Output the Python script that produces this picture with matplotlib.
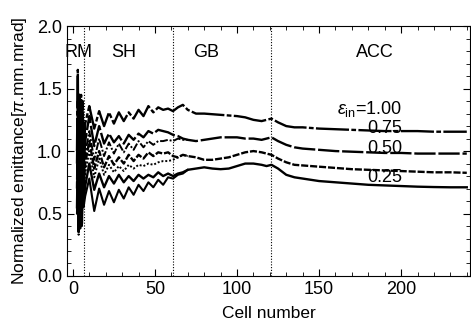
import matplotlib
matplotlib.use("Agg")
import matplotlib.pyplot as plt
from matplotlib.ticker import MultipleLocator

plt.rcParams['font.family'] = ['Liberation Sans', 'DejaVu Sans']
plt.rcParams['mathtext.fontset'] = 'custom'
plt.rcParams['mathtext.rm'] = 'Liberation Sans'
plt.rcParams['mathtext.it'] = 'Liberation Sans:italic'

# cell positions for each section
x_rm = [2.5, 3, 3.5, 4, 4.5, 5, 5.5, 6, 6.5]
x_sh = [7.5, 10, 13, 16, 19, 22, 25, 28, 31, 34, 37, 40, 43, 46, 49, 52, 55, 58, 61]
x_gb = [64, 67, 70, 75, 80, 85, 90, 95, 100, 105, 110, 115, 118, 121]
x_acc = [125, 130, 135, 140, 150, 160, 170, 180, 190, 200, 210, 220, 230, 240]
cell = x_rm + x_sh + x_gb + x_acc
cell_short = x_rm + x_sh + [64, 67, 70]

# emittance curves (main, full length)
eps100 = ([1.0, 1.65, 0.6, 1.45, 0.7, 1.45, 0.8, 1.40, 0.95]
          + [1.22, 1.36, 1.18, 1.32, 1.20, 1.31, 1.22, 1.31, 1.24, 1.31, 1.26, 1.33, 1.28, 1.36, 1.31, 1.35, 1.33, 1.34, 1.32]
          + [1.35, 1.37, 1.33, 1.30, 1.30, 1.295, 1.29, 1.285, 1.28, 1.27, 1.25, 1.24, 1.25, 1.26]
          + [1.23, 1.20, 1.19, 1.19, 1.18, 1.175, 1.17, 1.165, 1.16, 1.16, 1.16, 1.155, 1.155, 1.155])
eps075 = ([0.9, 1.40, 0.45, 1.45, 0.55, 1.35, 0.7, 1.30, 0.85]
          + [1.08, 1.28, 1.04, 1.20, 1.06, 1.14, 1.07, 1.12, 1.06, 1.13, 1.09, 1.14, 1.11, 1.16, 1.14, 1.17, 1.16, 1.15, 1.13]
          + [1.12, 1.10, 1.09, 1.08, 1.09, 1.10, 1.11, 1.11, 1.11, 1.10, 1.10, 1.09, 1.10, 1.11]
          + [1.08, 1.05, 1.03, 1.02, 1.01, 1.00, 0.995, 0.99, 0.985, 0.985, 0.98, 0.98, 0.98, 0.98])
eps050 = ([0.7, 1.2, 0.35, 1.3, 0.45, 1.2, 0.5, 1.2, 0.7]
          + [0.90, 1.08, 0.86, 1.00, 0.87, 0.96, 0.89, 0.95, 0.90, 0.97, 0.92, 0.97, 0.94, 0.99, 0.96, 0.99, 0.98, 0.99, 0.96]
          + [0.95, 0.97, 0.96, 0.95, 0.93, 0.93, 0.94, 0.95, 0.97, 0.99, 1.00, 0.99, 0.98, 0.97]
          + [0.94, 0.91, 0.89, 0.885, 0.875, 0.865, 0.855, 0.85, 0.845, 0.84, 0.835, 0.83, 0.83, 0.826])
eps025 = ([0.55, 1.0, 0.40, 1.15, 0.40, 1.05, 0.42, 1.05, 0.6]
          + [0.72, 0.90, 0.69, 0.82, 0.71, 0.80, 0.74, 0.81, 0.75, 0.80, 0.76, 0.81, 0.78, 0.81, 0.79, 0.83, 0.80, 0.82, 0.80]
          + [0.82, 0.83, 0.85, 0.86, 0.87, 0.86, 0.855, 0.86, 0.88, 0.90, 0.90, 0.89, 0.88, 0.89]
          + [0.86, 0.81, 0.79, 0.78, 0.76, 0.75, 0.74, 0.73, 0.725, 0.72, 0.715, 0.712, 0.71, 0.71])

# second-plane curves that merge in the GB section
eps075_b = ([0.8, 1.30, 0.40, 1.38, 0.50, 1.30, 0.6, 1.25, 0.8]
            + [0.98, 1.16, 0.93, 1.10, 0.96, 1.07, 0.98, 1.06, 0.99, 1.06, 1.01, 1.08, 1.03, 1.08, 1.05, 1.08, 1.08, 1.09, 1.08]
            + [1.10, 1.09, 1.09])
eps050_b = ([0.65, 1.1, 0.33, 1.25, 0.42, 1.15, 0.45, 1.15, 0.65]
            + [0.82, 1.00, 0.79, 0.94, 0.81, 0.89, 0.83, 0.88, 0.84, 0.89, 0.86, 0.89, 0.88, 0.90, 0.89, 0.91, 0.92, 0.92, 0.93]
            + [0.95, 0.97, 0.96])
eps025_b = ([0.5, 0.9, 0.35, 1.1, 0.38, 1.0, 0.40, 1.0, 0.55]
            + [0.64, 0.78, 0.52, 0.70, 0.57, 0.68, 0.59, 0.69, 0.62, 0.71, 0.65, 0.73, 0.68, 0.75, 0.71, 0.77, 0.73, 0.79, 0.78]
            + [0.81, 0.82, 0.85])

boundaries = [6.5, 61, 121]
sections = ["RM", "SH", "GB", "ACC"]
section_x = [3.7, 31, 81, 184]
eps_labels = [r"$\epsilon_{\rm in}$=1.00", "0.75", "0.50", "0.25"]
label_x = [181, 190, 190, 190]
label_y = [1.34, 1.18, 1.02, 0.79]

fig = plt.figure(figsize=(4.71, 3.27), dpi=100)
ax = fig.add_axes([0.142, 0.156, 0.856, 0.764])

lw = 1.7
ax.plot(cell, eps100, color="black", lw=lw, ls=(0, (14, 1, 2, 1)))
ax.plot(cell, eps075, color="black", lw=lw, ls=(0, (9, 1.2)))
ax.plot(cell, eps050, color="black", lw=lw, ls=(0, (3, 0.8)))
ax.plot(cell, eps025, color="black", lw=lw, ls="-")
ax.plot(cell_short, eps075_b, color="black", lw=1.4, ls=(0, (4, 1, 1, 1)))
ax.plot(cell_short, eps050_b, color="black", lw=1.4, ls=(0, (1, 1)))
ax.plot(cell_short, eps025_b, color="black", lw=1.5, ls="-")

for b in boundaries:
    ax.axvline(b, color="black", lw=0.8, ls=(0, (1, 1.5)))

for s, sx in zip(sections, section_x):
    ax.text(sx, 1.79, s, ha="center", va="center", fontsize=13)
for t, tx, ty in zip(eps_labels, label_x, label_y):
    ax.text(tx, ty, t, ha="center", va="center", fontsize=13)

ax.set_xlim(-3.66, 242)
ax.set_ylim(0, 2.0)
ax.xaxis.set_major_locator(MultipleLocator(50))
ax.xaxis.set_minor_locator(MultipleLocator(10))
ax.yaxis.set_major_locator(MultipleLocator(0.5))
ax.yaxis.set_minor_locator(MultipleLocator(0.1))
ax.tick_params(which="both", direction="in", top=True, right=True, labelsize=13)
ax.tick_params(which="major", length=5)
ax.tick_params(which="minor", length=3)
ax.set_xlabel("Cell number", fontsize=12.5, labelpad=6)
ax.set_ylabel(r"Normalized emittance[$\pi$.mm.mrad]", fontsize=12.5, labelpad=6)

fig.savefig("out.png", dpi=100)
